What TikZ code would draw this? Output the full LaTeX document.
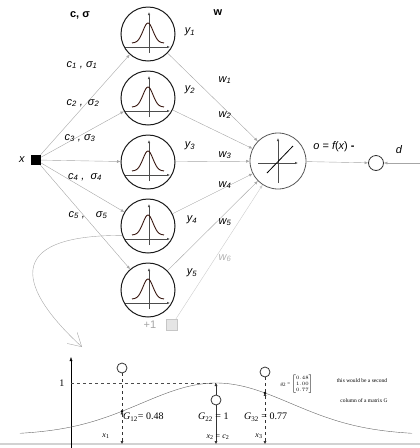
\documentclass[tikz,border=0pt]{standalone}
\usepackage{fontspec}
\setmainfont{Liberation Serif}
\setsansfont{Liberation Sans}
\usetikzlibrary{arrows.meta}
\definecolor{bellred}{RGB}{55,22,15}

\begin{document}
\begin{tikzpicture}[x=1pt, y=-1pt,
    wire/.style={gray!70, -{Latex[length=3.5pt,width=3pt]}},
    lbl/.style={font=\fontsize{11}{13}\sffamily\itshape, inner sep=1pt},
    rbf/.style={circle, draw=black!90, line width=1pt, minimum size=54pt, inner sep=0pt,
        path picture={
            \begin{scope}[shift={(path picture bounding box.center)}]
                \draw[black!70, -{Latex[length=3pt,width=2.5pt]}] (-23,13) -- (22,13);
                \draw[black!70, -{Latex[length=3pt,width=2.5pt]}] (1,19) -- (1,-22);
                \draw[bellred, line width=0.9pt] plot[domain=-16:16, samples=40] (\x, {9-20*exp(-(\x*\x)/50)});
            \end{scope}}},
    sumnode/.style={circle, draw=black!80, thick, minimum size=54pt, inner sep=0pt},
    bot/.style={font=\fontsize{10}{12}\selectfont, inner sep=1pt}]

    \useasboundingbox (0,0) rectangle (420,448);

    % ================= Netz: RBF-Schicht =================
    % 1. Eingang x
    \node[fill=black, minimum size=10pt, inner sep=0pt] (input) at (36,160) {};
    \node[lbl] (xlab) at (22,160) {x};

    % 2. versteckte Neuronen
    \foreach \k/\yy in {1/34, 2/98, 3/162, 4/226, 5/290} {
        \node[rbf] (h\k) at (148,\yy) {};
        \draw[wire] (input) -- (h\k);
    }
    \node[lbl] (y1) at (190,32) {y\textsubscript{1}};
    \node[lbl] (y2) at (190,90) {y\textsubscript{2}};
    \node[lbl] (y3) at (190,146) {y\textsubscript{3}};
    \node[lbl] (y4) at (192,220) {y\textsubscript{4}};
    \node[lbl] (y5) at (192,273) {y\textsubscript{5}};

    % 3. Zentren und Breiten
    \node[font=\fontsize{11}{13}\sffamily\bfseries] (cs) at (80,15) {c, σ};
    \node[lbl] (cs1) at (82,65) {c\textsubscript{1} , σ\textsubscript{1}};
    \node[lbl] (cs2) at (83,103) {c\textsubscript{2} ,\, σ\textsubscript{2}};
    \node[lbl] (cs3) at (80,138) {c\textsubscript{3} , σ\textsubscript{3}};
    \node[lbl] (cs4) at (85,177) {c\textsubscript{4} ,\; σ\textsubscript{4}};
    \node[lbl] (cs5) at (88,215) {c\textsubscript{5} ,\quad σ\textsubscript{5}};

    % ================= Ausgang =================
    % 4. lineares Ausgangsneuron
    \node[sumnode, draw=black!65, minimum size=56pt, path picture={
            \begin{scope}[shift={(path picture bounding box.center)}]
                \draw[black!70, -{Latex[length=3pt,width=2.5pt]}] (-20,2) -- (20,2);
                \draw[black!70, -{Latex[length=3pt,width=2.5pt]}] (0,22) -- (0,-23);
                \draw[black, thick] (-11,12) -- (15,-15);
            \end{scope}}] (out) at (278,161) {};
    \foreach \k in {1,...,5} {
        \draw[wire] (h\k) -- (out);
    }
    \node[font=\fontsize{11}{13}\sffamily\bfseries] (wlab) at (218,13) {w};
    \node[lbl] (w1) at (225,80) {w\textsubscript{1}};
    \node[lbl] (w2) at (225,115) {w\textsubscript{2}};
    \node[lbl] (w3) at (225,155) {w\textsubscript{3}};
    \node[lbl] (w4) at (225,185) {w\textsubscript{4}};
    \node[lbl] (w5) at (225,222) {w\textsubscript{5}};
    \node[lbl, text=gray!60] (w6) at (225,258) {w\textsubscript{6}};

    % 5. Bias +1
    \node[fill=gray!20, draw=gray!45, minimum size=11pt, inner sep=0pt] (bias) at (172,325) {};
    \node[font=\fontsize{11}{13}\sffamily, text=gray!70] (biaslab) at (150,325) {+1};
    \draw[wire, gray!40] (bias) -- (out);

    % 6. Vergleich mit d
    \node[circle, draw=black!80, thick, minimum size=15pt, inner sep=0pt] (err) at (376,163) {};
    \coordinate (dsrc) at (420,163);
    \draw[wire] (out) -- (err);
    \draw[wire] (dsrc) -- (err);
    \node[lbl] (olab) at (334,147) {o {\upshape=} f{\upshape(}x{\upshape)} {\upshape\bfseries -}};
    \node[lbl] (dlab) at (399,150) {d};

    % 7. Verweis auf den Gauss-Plot
    \coordinate (bend) at (h4.200);
    \coordinate (plotin) at (82,347);
    \draw[gray!70, -{Straight Barb[length=13pt,width=15pt]}] (bend) .. controls (0,235) and (20,290) .. (plotin);

    % ================= Gauss-Funktion unten =================
    % 8. Achsen
    \draw[gray!35, line width=2pt] (0,444) -- (420,444);
    \draw[-{Latex[length=4pt,width=3pt]}] (71,448) -- (71,357);
    \node[bot] (one) at (62,383) {1};
    \draw[dashed, black!70] (71,383) -- (216,383);

    % 9. Kurve
    \draw[black!60] plot[domain=20:412, samples=80] (\x, {435-52*exp(-0.5*((\x-216)/75)^2)});

    % 10. Stuetzstellen x1, x2, x3
    \foreach \n/\px in {1/122, 3/265} {
        \pgfmathsetmacro{\py}{435-52*exp(-0.5*((\px-216)/75)^2)}
        \coordinate (g\n) at (\px,\py);
        \coordinate (b\n) at (\px,444);
        \fill (g\n) circle (1.3);
        \draw[dashed, black!80, <->, >={Latex[length=3pt,width=3pt]}] (b\n) -- (g\n);
    }
    \node[circle, draw=black!80, thick, minimum size=10pt, inner sep=0pt] (o1) at (122,368) {};
    \node[circle, draw=black!80, thick, minimum size=10pt, inner sep=0pt] (o3) at (265,372) {};
    \draw[dashed, black!80] (o1) -- (g1);
    \draw[dashed, black!80] (o3) -- (g3);
    \coordinate (g2) at (216,383);
    \coordinate (b2) at (216,444);
    \node[circle, draw=black!80, thick, minimum size=10pt, inner sep=0pt] (o2) at (216,400) {};
    \draw[black!80, <-, >={Latex[length=3pt,width=3pt]}] (g2) -- (o2);
    \draw[black!80, ->, >={Latex[length=3pt,width=3pt]}] (o2) -- (b2);

    % 11. Beschriftung
    \node[bot, anchor=west] (G12) at (122,417) {\textit{G}\textsubscript{12}= 0.48};
    \node[bot, anchor=west] (G22) at (197,417) {\textit{G}\textsubscript{22} = 1};
    \node[bot, anchor=west] (G32) at (243,417) {\textit{G}\textsubscript{32} = 0.77};
    \node[bot, font=\fontsize{8}{10}\selectfont] (x1) at (106,436) {\textit{x}\textsubscript{1}};
    \node[bot, font=\fontsize{8}{10}\selectfont] (x2) at (218,437) {\textit{x}\textsubscript{2} = \textit{c}\textsubscript{2}};
    \node[bot, font=\fontsize{8}{10}\selectfont] (x3) at (259,436) {\textit{x}\textsubscript{3}};
    \node[bot, font=\fontsize{5}{6}\selectfont] (gvec) at (297,384)
        {\textit{g}\textsubscript{2} = $\left[\begin{array}{@{}c@{}}0.48\\1.00\\0.77\end{array}\right]$};
    \node[bot, font=\fontsize{5.5}{6}\selectfont] (note1) at (362,381) {this would be a second};
    \node[bot, font=\fontsize{5.5}{6}\selectfont] (note2) at (364,401) {column of a matrix G};
\end{tikzpicture}
\end{document}
